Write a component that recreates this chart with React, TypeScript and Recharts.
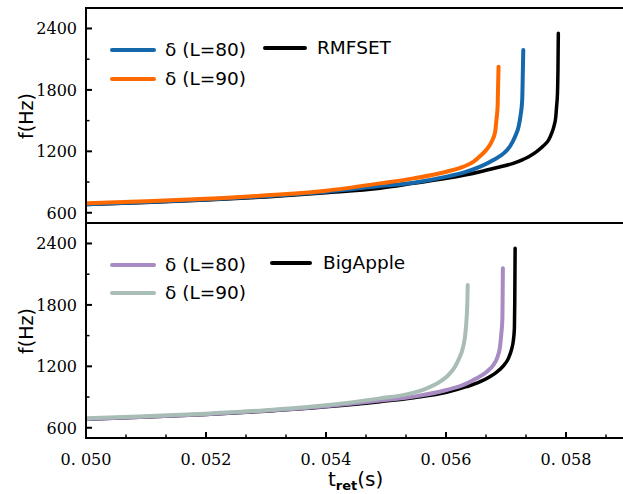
import React from 'react';
import { LineChart, Line, XAxis, YAxis } from 'recharts';

// axes
const xDomain = [0.05, 0.059];
const yDomain = [500, 2600];
const xMajor = [0.05, 0.052, 0.054, 0.056, 0.058];
const yMajor = [600, 1200, 1800, 2400];
const yMinor = [900, 1500, 2100];
const xMinor = xMajor.flatMap((m) => [m + 0.002 / 3, m + 0.004 / 3]).filter((v) => v < 0.059);
const xTicks = [...xMajor, ...xMinor].sort((a, b) => a - b);
const yTicks = [...yMajor, ...yMinor].sort((a, b) => a - b);

// top panel: RMFSET
const rmfsetT = [0.05, 0.051, 0.052, 0.053, 0.054, 0.0549, 0.05546, 0.05601, 0.05657, 0.05684, 0.05712, 0.05729, 0.0574, 0.05751, 0.05762, 0.05771, 0.05776, 0.0578, 0.05783, 0.057843, 0.057858, 0.057866, 0.057872];
const rmfsetF = [680, 700, 725, 755, 795, 839, 887, 936, 1001, 1040, 1083, 1122, 1154, 1197, 1252, 1311, 1376, 1447, 1539, 1636, 1767, 1994, 2353];
const rmf80T = [0.05, 0.051, 0.052, 0.053, 0.054, 0.0549, 0.05546, 0.05601, 0.05629, 0.05657, 0.05679, 0.05696, 0.05707, 0.05715, 0.05721, 0.05724, 0.05727, 0.057278, 0.057288];
const rmf80F = [684, 705, 730, 762, 805, 861, 894, 953, 992, 1050, 1115, 1180, 1252, 1343, 1441, 1539, 1701, 1897, 2190];
const rmf90T = [0.05, 0.051, 0.052, 0.053, 0.054, 0.0549, 0.05546, 0.05601, 0.05629, 0.05646, 0.05657, 0.05668, 0.05676, 0.05682, 0.05684, 0.05686, 0.056868, 0.056876];
const rmf90F = [692, 712, 736, 770, 816, 887, 936, 1001, 1050, 1099, 1154, 1220, 1294, 1392, 1506, 1636, 1832, 2027];

// bottom panel: BigApple
const bigT = [0.05, 0.051, 0.052, 0.053, 0.054, 0.0549, 0.05546, 0.05601, 0.05634, 0.05657, 0.05673, 0.05684, 0.05696, 0.05704, 0.05709, 0.05712, 0.05714, 0.057146, 0.057152];
const bigF = [684, 704, 730, 762, 805, 855, 894, 946, 1001, 1050, 1099, 1141, 1207, 1278, 1360, 1441, 1571, 1832, 2353];
const big80T = [0.05, 0.051, 0.052, 0.053, 0.054, 0.0549, 0.05546, 0.05601, 0.05629, 0.05651, 0.05668, 0.05679, 0.05686, 0.0569, 0.05692, 0.05694, 0.056944, 0.056948];
const big80F = [686, 707, 733, 766, 810, 865, 904, 969, 1018, 1083, 1148, 1213, 1294, 1392, 1506, 1669, 1897, 2157];
const big90T = [0.05, 0.051, 0.052, 0.053, 0.054, 0.0549, 0.05534, 0.05568, 0.0559, 0.05604, 0.05615, 0.05622, 0.05628, 0.05632, 0.05634, 0.056356, 0.056362];
const big90F = [692, 713, 738, 772, 820, 887, 926, 985, 1050, 1115, 1197, 1278, 1376, 1506, 1636, 1832, 1994];

const zip = (t: number[], f: number[]) => t.map((v, i) => ({ t: v, f: f[i] }));

const topSeries = [
  { name: 'RMFSET', data: zip(rmfsetT, rmfsetF), color: '#000000', width: 3.5 },
  { name: 'δ (L=80)', data: zip(rmf80T, rmf80F), color: '#1668ad', width: 4 },
  { name: 'δ (L=90)', data: zip(rmf90T, rmf90F), color: '#ff6a00', width: 4 },
];
const bottomSeries = [
  { name: 'BigApple', data: zip(bigT, bigF), color: '#000000', width: 3.5 },
  { name: 'δ (L=80)', data: zip(big80T, big80F), color: '#a78bc2', width: 4 },
  { name: 'δ (L=90)', data: zip(big90T, big90F), color: '#a9bdb7', width: 4 },
];

const isMajor = (v: number, majors: number[]) => majors.some((m) => Math.abs(m - v) < 1e-9);
const tickFont = { fontFamily: 'DejaVu Serif', fontSize: 16, fill: '#000' };

// inward ticks; side = where the axis sits
const makeTick = (side: string, majors: number[], showLabel: boolean) => (props: any) => {
  const { x, y, payload } = props;
  const v = payload.value;
  const major = isMajor(v, majors);
  const len = major ? 6 : 3.5;
  let line;
  if (side === 'left') line = <line x1={x} x2={x + len} y1={y} y2={y} />;
  else if (side === 'right') line = <line x1={x} x2={x - len} y1={y} y2={y} />;
  else if (side === 'top') line = <line x1={x} x2={x} y1={y} y2={y + len} />;
  else line = <line x1={x} x2={x} y1={y} y2={y - len} />;
  return (
    <g stroke="#000" strokeWidth={major ? 2 : 1.5}>
      {line}
      {showLabel && major && side === 'left' && (
        <text x={x - 9} y={y} dy="0.36em" textAnchor="end" stroke="none" {...tickFont}>{String(v)}</text>
      )}
      {showLabel && major && side === 'bottom' && (
        <text x={x} y={y + 27} textAnchor="middle" stroke="none" {...tickFont}>{v.toFixed(3).replace('.', '. ')}</text>
      )}
    </g>
  );
};

function Panel({ series, bottomLabels }: { series: typeof topSeries; bottomLabels: boolean }) {
  return (
    <LineChart
      width={640}
      height={bottomLabels ? 279 : 230}
      margin={{ top: 8, right: 14, bottom: bottomLabels ? 0 : 7, left: 0 }}
    >
      <XAxis
        dataKey="t"
        type="number"
        domain={xDomain}
        allowDataOverflow
        ticks={xTicks}
        interval={0}
        height={bottomLabels ? 56 : 0}
        tickSize={0}
        tickMargin={0}
        tickLine={false}
        axisLine={false}
        tick={makeTick('bottom', xMajor, bottomLabels)}
      />
      <XAxis
        xAxisId="top"
        orientation="top"
        dataKey="t"
        type="number"
        domain={xDomain}
        allowDataOverflow
        ticks={xTicks}
        interval={0}
        height={0}
        tickSize={0}
        tickMargin={0}
        tickLine={false}
        axisLine={false}
        tick={makeTick('top', xMajor, false)}
      />
      <YAxis
        type="number"
        domain={yDomain}
        allowDataOverflow
        ticks={yTicks}
        interval={0}
        width={86}
        tickSize={0}
        tickMargin={0}
        tickLine={false}
        axisLine={false}
        tick={makeTick('left', yMajor, true)}
      />
      <YAxis
        yAxisId="right"
        orientation="right"
        type="number"
        domain={yDomain}
        allowDataOverflow
        ticks={yTicks}
        interval={0}
        width={0}
        tickSize={0}
        tickMargin={0}
        tickLine={false}
        axisLine={false}
        tick={makeTick('right', yMajor, false)}
      />
      {series.map((s) => (
        <Line
          key={s.name + s.color}
          data={s.data}
          dataKey="f"
          type="monotone"
          stroke={s.color}
          strokeWidth={s.width}
          strokeLinecap="round"
          dot={false}
          activeDot={false}
          isAnimationActive={false}
        />
      ))}
    </LineChart>
  );
}

function LegendItem({ x, y, color, label, lineW, gap }: any) {
  return (
    <div style={{ position: 'absolute', left: x, top: y - 12, height: 24, display: 'flex', alignItems: 'center', whiteSpace: 'nowrap' }}>
      <div style={{ width: lineW, height: 4, background: color, borderRadius: 2, marginRight: gap }} />
      <span style={{ fontFamily: 'DejaVu Sans', fontSize: 18.5, color: '#000', lineHeight: '24px' }}>{label}</span>
    </div>
  );
}

const yLabelStyle: React.CSSProperties = {
  position: 'absolute',
  left: 26,
  width: 0,
  height: 0,
  display: 'flex',
  alignItems: 'center',
  justifyContent: 'center',
  whiteSpace: 'nowrap',
  fontFamily: 'DejaVu Sans',
  fontSize: 19,
};

const frameStyle: React.CSSProperties = {
  position: 'absolute',
  left: 85,
  width: 542,
  height: 217,
  boxSizing: 'border-box',
  border: '2px solid #000',
  pointerEvents: 'none',
};

export default function App() {
  return (
    <div style={{ position: 'absolute', left: 0, top: 0, width: 623, height: 494, overflow: 'hidden', background: '#fff' }}>
      <div style={{ position: 'absolute', left: 0, top: 0 }}>
        <Panel series={topSeries} bottomLabels={false} />
      </div>
      <div style={{ position: 'absolute', left: 0, top: 215 }}>
        <Panel series={bottomSeries} bottomLabels={true} />
      </div>
      <div style={{ ...frameStyle, top: 7 }} />
      <div style={{ ...frameStyle, top: 222 }} />

      <LegendItem x={110} y={50} color={topSeries[1].color} label={topSeries[1].name} lineW={46} gap={9} />
      <LegendItem x={110} y={79} color={topSeries[2].color} label={topSeries[2].name} lineW={46} gap={9} />
      <LegendItem x={263} y={48} color={topSeries[0].color} label={topSeries[0].name} lineW={44} gap={10} />

      <LegendItem x={110} y={265} color={bottomSeries[1].color} label={bottomSeries[1].name} lineW={46} gap={9} />
      <LegendItem x={110} y={293} color={bottomSeries[2].color} label={bottomSeries[2].name} lineW={46} gap={9} />
      <LegendItem x={270} y={263} color={bottomSeries[0].color} label={bottomSeries[0].name} lineW={42} gap={11} />

      <div style={{ ...yLabelStyle, top: 116 }}>
        <span style={{ transform: 'rotate(-90deg)' }}>f(Hz)</span>
      </div>
      <div style={{ ...yLabelStyle, top: 331 }}>
        <span style={{ transform: 'rotate(-90deg)' }}>f(Hz)</span>
      </div>

      <div style={{ position: 'absolute', left: 328, top: 468, lineHeight: '22px', fontFamily: 'DejaVu Sans', fontSize: 20, whiteSpace: 'nowrap' }}>
        t<sub style={{ fontSize: 13, fontWeight: 'bold', verticalAlign: '-4px', lineHeight: '13px' }}>ret</sub>(s)
      </div>
    </div>
  );
}
